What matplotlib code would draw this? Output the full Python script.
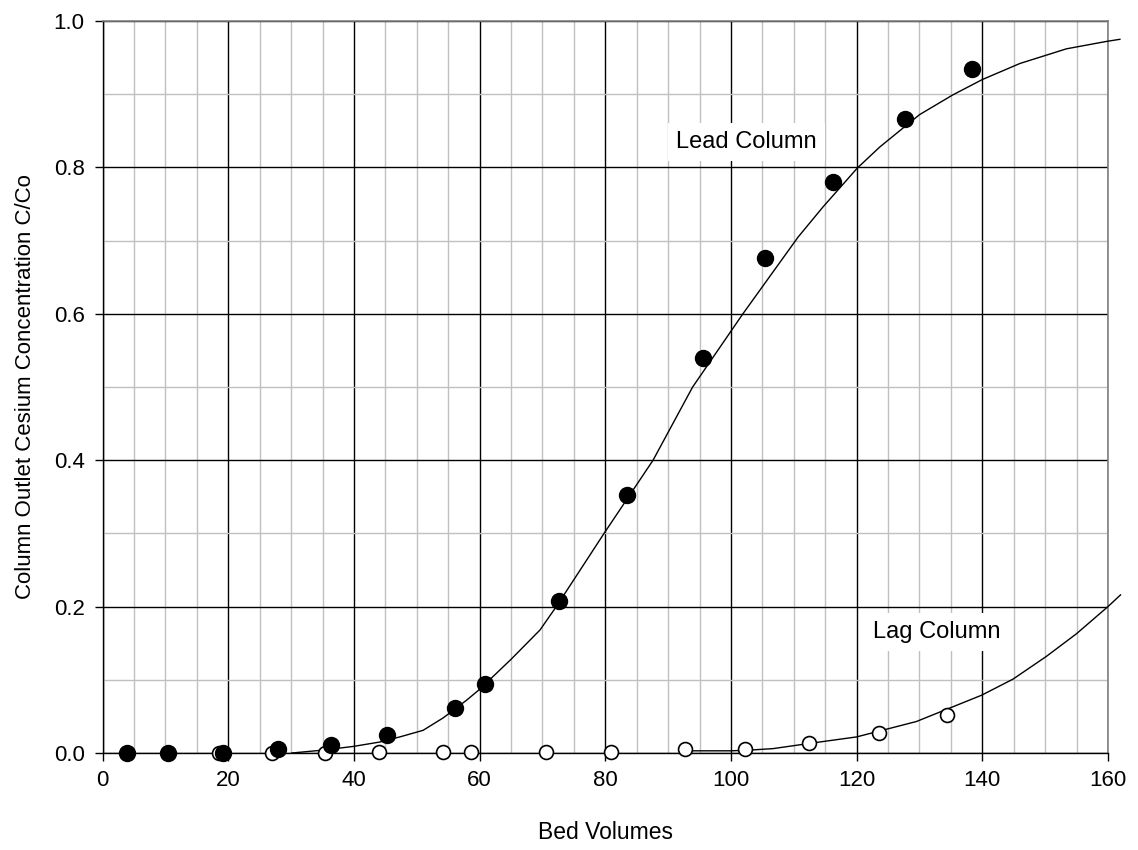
import matplotlib
matplotlib.use("Agg")
import matplotlib.pyplot as plt
from matplotlib.ticker import MultipleLocator

plt.rcParams['font.family'] = ['Liberation Sans', 'DejaVu Sans']

# Lead column measured data (filled circles)
lead_x = [3.8, 10.4, 19.2, 27.9, 36.3, 45.2, 56.1, 60.8, 72.65, 83.5, 95.6, 105.4, 116.25, 127.65, 138.4]
lead_y = [0.0, 0.0, 0.0, 0.005, 0.011, 0.024, 0.062, 0.094, 0.207, 0.353, 0.540, 0.676, 0.780, 0.866, 0.935]

# Lag column measured data (open circles)
lag_x = [3.8, 10.4, 18.55, 27.0, 35.4, 44.0, 54.2, 58.6, 70.5, 80.9, 92.7, 102.3, 112.4, 123.6, 134.4]
lag_y = [0.0, 0.0, 0.0, 0.0, 0.0, 0.001, 0.001, 0.001, 0.001, 0.001, 0.005, 0.005, 0.013, 0.027, 0.052]

# Model curves
lead_curve_x = [30.1, 35.1, 39.9, 44.1, 47.3, 51.0, 54.2, 57.9, 60.0, 65.0, 69.6, 72.2, 79.8, 87.6,
                93.9, 101.9, 110.7, 114.65, 120.1, 123.7, 130.0, 135.3, 140.0, 146.0, 153.4, 159.7, 161.9]
lead_curve_y = [0.0, 0.004, 0.009, 0.015, 0.022, 0.031, 0.048, 0.072, 0.087, 0.128, 0.168, 0.2, 0.3, 0.4,
                0.5, 0.6, 0.705, 0.746, 0.799, 0.828, 0.872, 0.899, 0.920, 0.942, 0.962, 0.972, 0.975]

lag_curve_x = [93.4, 100.0, 103.0, 106.7, 112.4, 120.0, 129.5, 139.9, 144.9, 150.2, 155.0, 160.0, 162.0]
lag_curve_y = [0.003, 0.003, 0.004, 0.006, 0.013, 0.022, 0.043, 0.079, 0.101, 0.132, 0.163, 0.2, 0.216]

fig = plt.figure(figsize=(11.38, 8.5), dpi=100)
ax = fig.add_axes([0.0902, 0.1141, 0.9736 - 0.0902, 0.9753 - 0.1141])

ax.set_xlim(0, 160)
ax.set_ylim(0, 1.0)
ax.xaxis.set_major_locator(MultipleLocator(20))
ax.xaxis.set_minor_locator(MultipleLocator(5))
ax.yaxis.set_major_locator(MultipleLocator(0.2))
ax.yaxis.set_minor_locator(MultipleLocator(0.1))
ax.yaxis.set_major_formatter(matplotlib.ticker.FormatStrFormatter('%.1f'))

ax.set_axisbelow(True)
ax.grid(which='minor', color='#c0c0c0', linewidth=1.0)
ax.grid(which='major', color='black', linewidth=1.0)

for s in ['top', 'right']:
    ax.spines[s].set_color('#808080')
    ax.spines[s].set_linewidth(1.2)
for s in ['left', 'bottom']:
    ax.spines[s].set_color('black')
    ax.spines[s].set_linewidth(1.0)

ax.tick_params(which='major', direction='out', length=6, width=1.0, labelsize=16, pad=6)
ax.tick_params(axis='y', which='major', pad=7)
ax.tick_params(which='minor', length=0)

ax.plot(lead_curve_x, lead_curve_y, color='black', linewidth=1.0, clip_on=False, zorder=4)
ax.plot(lag_curve_x, lag_curve_y, color='black', linewidth=1.0, clip_on=False, zorder=4)

ax.plot(lag_x, lag_y, linestyle='none', marker='o', markersize=10, markerfacecolor='white',
        markeredgecolor='black', markeredgewidth=1.2, clip_on=False, zorder=5)
ax.plot(lead_x, lead_y, linestyle='none', marker='o', markersize=11.5, markerfacecolor='black',
        markeredgecolor='black', clip_on=False, zorder=6)

ax.text(102.5, 0.835, 'Lead Column', fontsize=17, ha='center', va='center', zorder=3,
        bbox=dict(facecolor='white', edgecolor='none', pad=6))
ax.text(132.7, 0.165, 'Lag Column', fontsize=17, ha='center', va='center', zorder=3,
        bbox=dict(facecolor='white', edgecolor='none', pad=6))

ax.set_xlabel('Bed Volumes', fontsize=16.5, labelpad=22)
ax.set_ylabel('Column Outlet Cesium Concentration C/Co', fontsize=16, labelpad=13)

fig.savefig('out.png', dpi=100)
